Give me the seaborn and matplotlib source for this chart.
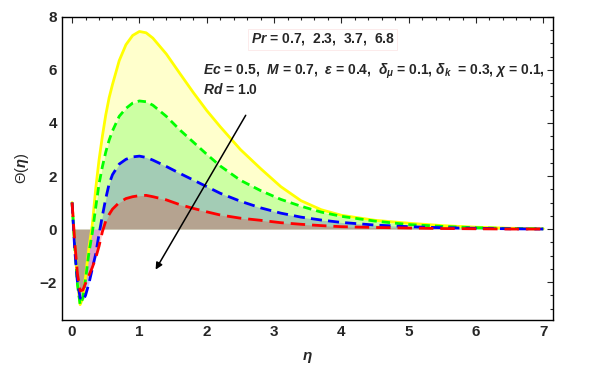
import matplotlib
matplotlib.use("Agg")
import matplotlib.pyplot as plt
import seaborn as sns
import numpy as np

# eta grid shared by all four curves
eta = [0.0, 0.04, 0.08, 0.12, 0.16, 0.2, 0.25, 0.3, 0.35, 0.4, 0.45, 0.5, 0.55, 0.6,
       0.7, 0.8, 0.9, 1.0, 1.1, 1.2, 1.4, 1.6, 1.8, 2.0, 2.2, 2.5, 2.8, 3.1, 3.4,
       3.7, 4.0, 4.5, 5.0, 5.5, 6.0, 6.5, 7.0]

# Pr = 6.8 (yellow)
theta_pr68 = [1.0, -0.6, -2.0, -2.85, -2.6, -1.8, -0.7, 0.15, 1.5, 2.6, 3.5, 4.3, 4.95, 5.45,
              6.35, 6.95, 7.3, 7.45, 7.4, 7.2, 6.6, 5.87, 5.15, 4.47, 3.86, 3.0, 2.28, 1.6, 1.07,
              0.73, 0.52, 0.33, 0.22, 0.13, 0.07, 0.03, 0.01]
# Pr = 3.7 (green)
theta_pr37 = [1.0, -0.7, -2.1, -2.85, -2.6, -1.9, -0.9, -0.15, 0.8, 1.7, 2.35, 2.9, 3.35, 3.7,
              4.25, 4.55, 4.75, 4.83, 4.8, 4.67, 4.25, 3.74, 3.28, 2.82, 2.38, 1.84, 1.45, 1.12, 0.86,
              0.64, 0.48, 0.30, 0.17, 0.10, 0.05, 0.02, 0.01]
# Pr = 2.3 (blue)
theta_pr23 = [1.0, -0.8, -2.0, -2.6, -2.7, -2.5, -2.05, -1.5, -0.95, -0.2, 0.5, 1.15, 1.7, 2.05,
              2.45, 2.63, 2.72, 2.75, 2.7, 2.6, 2.36, 2.1, 1.85, 1.6, 1.35, 1.05, 0.8, 0.6, 0.45,
              0.34, 0.25, 0.15, 0.09, 0.05, 0.03, 0.01, 0.0]
# Pr = 0.7 (red)
theta_pr07 = [1.0, -0.5, -1.7, -2.33, -2.3, -2.05, -1.75, -1.45, -1.1, -0.65, -0.1, 0.3, 0.55, 0.75,
              1.0, 1.15, 1.22, 1.26, 1.27, 1.22, 1.1, 0.92, 0.78, 0.65, 0.53, 0.41, 0.33, 0.24, 0.18,
              0.13, 0.09, 0.06, 0.04, 0.02, 0.01, 0.0, 0.0]

series = [
    (theta_pr68, "#FFFF00", "-"),
    (theta_pr37, "#00FF00", (0, (3.0, 1.8))),
    (theta_pr23, "#0000FF", (0, (4.0, 2.2))),
    (theta_pr07, "#FF0000", (0, (5.2, 2.5))),
]

sns.set_style("white")
plt.rcParams["font.family"] = ["Liberation Sans", "DejaVu Sans"]
plt.rcParams["font.weight"] = "bold"
plt.rcParams["mathtext.fontset"] = "custom"
plt.rcParams["mathtext.rm"] = "Liberation Sans:bold"
plt.rcParams["mathtext.it"] = "Liberation Sans:bold:italic"
plt.rcParams["mathtext.bf"] = "Liberation Sans:bold"
plt.rcParams["mathtext.fallback"] = "stixsans"

fig = plt.figure(figsize=(5.92, 3.67), dpi=100)
ax = fig.add_axes([0.1047, 0.128, 0.829, 0.826])

for vals, col, ls in series:
    ax.fill_between(eta, 0, vals, color=col, alpha=0.2, lw=0)
for vals, col, ls in series:
    sns.lineplot(x=eta, y=vals, ax=ax, color=col, linestyle=ls, lw=2.0)

ax.set_xlim(-0.15, 7.14)
ax.set_ylim(-3.43, 8.0)
ax.set_xticks(range(0, 8))
ax.set_yticks([-2, 0, 2, 4, 6, 8])
ax.set_xticks(np.arange(0, 7.01, 0.2), minor=True)
ax.set_yticks(np.arange(-3, 8.01, 0.5), minor=True)
ax.tick_params(which="both", direction="in", top=True, right=True, labelsize=11, width=0.8)
ax.tick_params(which="major", length=4.5)
ax.tick_params(which="minor", length=2.5)
for lab in ax.get_xticklabels() + ax.get_yticklabels():
    lab.set_fontweight("bold")
for sp in ax.spines.values():
    sp.set_color("black")
    sp.set_linewidth(1.0)

ax.set_xlabel(r"$\eta$", fontsize=11, labelpad=8)
ax.set_ylabel(r"Θ($\eta$)", fontsize=10.5, labelpad=6)

ax.text(3.72, 7.15, r"$Pr$ = 0.7,  2.3,  3.7,  6.8", fontsize=10, ha="center", va="center",
        fontweight="bold",
        bbox=dict(boxstyle="square,pad=0.15", fc="none", ec="#fbe3e3", lw=0.5))
ax.text(1.95, 5.95, r"$Ec$ = 0.5,  $M$ = 0.7,  $\epsilon$ = 0.4,  $\delta_\mu$ = 0.1, $\delta_k$  = 0.3, $\chi$ = 0.1,",
        fontsize=10, ha="left", va="center", fontweight="bold")
ax.text(1.95, 5.25, r"$Rd$ = 1.0", fontsize=10, ha="left", va="center", fontweight="bold")

ax.annotate("", xy=(1.22, -1.62), xytext=(2.6, 4.38),
            arrowprops=dict(arrowstyle="-|>", color="black", lw=1.1, mutation_scale=10))

fig.savefig("out.png", dpi=100)
